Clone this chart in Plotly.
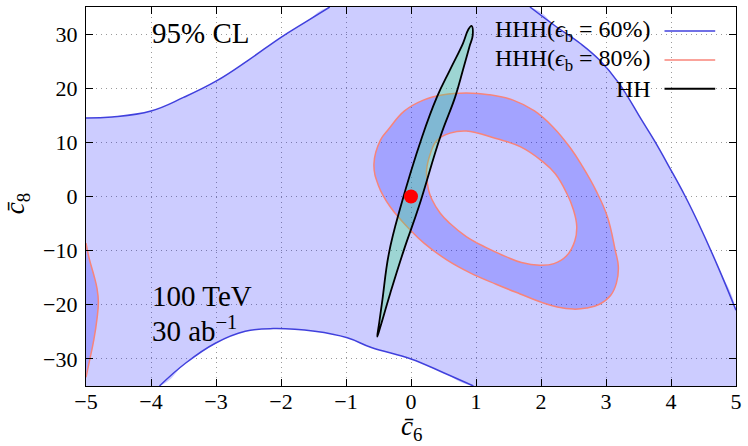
import plotly.graph_objects as go

# ---------------- data ----------------
X_RANGE = [-5, 5]
Y_RANGE = [-35, 35]
X_TICKS = [-5, -4, -3, -2, -1, 0, 1, 2, 3, 4, 5]
Y_TICKS = [-30, -20, -10, 0, 10, 20, 30]

# HHH (eps_b = 60%) 95% CL contour, three branches
hhh60_top_x = [-5.0, -4.6, -4.0, -3.5, -3.0, -2.5, -2.0, -1.6, -1.25]
hhh60_top_y = [14.5, 14.7, 15.8, 18.3, 21.3, 25.2, 29.4, 32.4, 35.0]
hhh60_right_x = [1.83, 2.23, 2.60, 2.90, 3.20, 3.55, 3.74, 3.98, 4.22, 4.42, 4.72, 5.0]
hhh60_right_y = [35.0, 31.4, 28.3, 25.2, 20.9, 14.1, 10.4, 5.3, 0.0, -4.9, -12.9, -21.0]
hhh60_bot_x = [-3.87, -3.47, -3.01, -2.55, -2.12, -1.48, -0.98, -0.61, 0.0, 0.51, 0.96]
hhh60_bot_y = [-35.0, -30.8, -27.1, -24.9, -24.4, -24.9, -26.1, -27.9, -30.0, -32.6, -35.0]

# HHH (eps_b = 80%) contour: outer ring (clockwise), inner ring (counter-clockwise), left sliver
hhh80_outer_x = [2.64, 2.85, 3.02, 3.14, 3.19, 3.16, 3.07, 2.9, 2.7, 2.5, 2.25, 2.02, 1.68, 1.31,
                 0.91, 0.55, 0.2, -0.01, -0.32, -0.5, -0.57, -0.47, -0.34, -0.1, 0.19, 0.5, 0.85,
                 1.2, 1.57, 1.9, 2.18, 2.45, 2.64]
hhh80_outer_y = [5.5, 1.0, -3.7, -9.8, -13.0, -16.0, -18.3, -19.9, -20.6, -20.8, -20.4, -19.6, -18.0, -16.2,
                 -14.1, -11.7, -8.6, -6.2, -1.9, 2.0, 6.0, 10.4, 12.5, 15.8, 17.8, 18.8, 19.1,
                 18.8, 17.8, 15.8, 12.9, 9.0, 5.5]
hhh80_inner_x = [2.4, 2.22, 2.02, 1.68, 1.31, 0.85, 0.6, 0.4, 0.3, 0.24, 0.27, 0.32, 0.45, 0.6,
                 0.85, 1.15, 1.46, 1.7, 1.98, 2.2, 2.39, 2.52, 2.55, 2.5, 2.4]
hhh80_inner_y = [0.5, 4.2, 6.5, 9.2, 10.7, 12.1, 11.7, 10.4, 8.0, 4.9, 1.2, -0.5, -3.1, -5.0,
                 -7.4, -9.4, -11.1, -12.2, -12.7, -12.4, -11.0, -8.2, -5.5, -2.5, 0.5]
hhh80_left_x = [-5.0, -4.95, -4.88, -4.83, -4.81, -4.83, -4.88, -4.94, -5.0]
hhh80_left_y = [-8.6, -11.5, -14.5, -17.0, -19.5, -22.5, -26.5, -30.0, -33.4]

# HH 95% CL ellipse
hh_x = [0.12, -0.11, -0.32, -0.47, -0.52, -0.49, -0.44, -0.34, -0.16, 0.17, 0.40, 0.60, 0.80,
        0.88, 0.93, 0.95, 0.90, 0.80, 0.68, 0.45, 0.12]
hh_y = [-1.9, -9.9, -17.9, -24.0, -25.9, -23.4, -19.1, -10.5, -1.9, 11.0, 18.4, 23.4, 28.3,
        30.8, 31.5, 29.8, 27.7, 23.4, 18.4, 11.0, -1.9]

# Standard-model point
sm_x = [0]
sm_y = [0]

legend_labels = ["HHH(<i>ϵ</i><sub>b</sub> = 60%)", "HHH(<i>ϵ</i><sub>b</sub> = 80%)", "HH"]

# ---------------- style ----------------
FONT = "Liberation Serif, DejaVu Serif, Times New Roman, serif"
BLUE = "#4040dd"
SALMON = "#f8847a"
FILL_BLUE = "rgba(0,0,255,0.2)"
FILL_HH = "rgba(50,235,110,0.3)"
SMOOTH = 1.2

fig = go.Figure()

# 60% region polygon: top-left branch, right branch, bottom-right corner,
# bottom branch (reversed), bottom-left corner
poly_x = (hhh60_top_x + hhh60_right_x + [X_RANGE[1]] + hhh60_bot_x[::-1] + [X_RANGE[0]])
poly_y = (hhh60_top_y + hhh60_right_y + [Y_RANGE[0]] + hhh60_bot_y[::-1] + [Y_RANGE[0]])
fig.add_trace(go.Scatter(x=poly_x, y=poly_y, fill="toself", fillcolor=FILL_BLUE,
                         mode="lines", line=dict(width=0, shape="spline", smoothing=SMOOTH),
                         hoverinfo="skip"))

for bx, by in [(hhh60_top_x, hhh60_top_y), (hhh60_right_x, hhh60_right_y), (hhh60_bot_x, hhh60_bot_y)]:
    fig.add_trace(go.Scatter(x=bx, y=by, mode="lines",
                             line=dict(color=BLUE, width=1.5, shape="spline", smoothing=SMOOTH),
                             hoverinfo="skip"))

# 80% region: ring with hole + left sliver
ring_x = hhh80_outer_x + [None] + hhh80_inner_x
ring_y = hhh80_outer_y + [None] + hhh80_inner_y
fig.add_trace(go.Scatter(x=ring_x, y=ring_y, fill="toself", fillcolor=FILL_BLUE,
                         mode="lines", line=dict(width=0, shape="spline", smoothing=SMOOTH),
                         connectgaps=False, hoverinfo="skip"))
fig.add_trace(go.Scatter(x=hhh80_left_x, y=hhh80_left_y, fill="toself", fillcolor=FILL_BLUE,
                         mode="lines", line=dict(width=0, shape="spline", smoothing=SMOOTH),
                         hoverinfo="skip"))
for bx, by in [(hhh80_outer_x, hhh80_outer_y), (hhh80_inner_x, hhh80_inner_y), (hhh80_left_x, hhh80_left_y)]:
    fig.add_trace(go.Scatter(x=bx, y=by, mode="lines",
                             line=dict(color=SALMON, width=1.5, shape="spline", smoothing=SMOOTH),
                             hoverinfo="skip"))

# HH ellipse
fig.add_trace(go.Scatter(x=hh_x, y=hh_y, fill="toself", fillcolor=FILL_HH, mode="lines",
                         line=dict(color="black", width=1.8, shape="spline", smoothing=SMOOTH),
                         hoverinfo="skip"))

# SM point
fig.add_trace(go.Scatter(x=sm_x, y=sm_y, mode="markers",
                         marker=dict(color="red", size=14, line=dict(width=0)),
                         hoverinfo="skip"))

axis_common = dict(showline=True, linecolor="black", linewidth=1.2, mirror="ticks",
                   ticks="inside", ticklen=7, tickwidth=1.2, tickcolor="black",
                   showgrid=True, gridcolor="#9a9a9a", griddash="1px,4px", gridwidth=1,
                   zeroline=False, tickfont=dict(family=FONT, size=22, color="black"))

fig.update_xaxes(range=X_RANGE, tickvals=X_TICKS, ticklabelstandoff=-5, **axis_common)
fig.update_yaxes(range=Y_RANGE, tickvals=Y_TICKS, ticklabelstandoff=3, **axis_common)

# legend drawn manually (text left of line sample)
shapes = [dict(type="rect", xref="paper", yref="paper", x0=0.662, x1=0.994, y0=0.736, y1=0.997,
               fillcolor="white", line=dict(width=0), layer="between")]
annotations = []
leg_rows = [0.937, 0.860, 0.784]
leg_colors = [BLUE, SALMON, "black"]
leg_widths = [1.5, 1.5, 2.0]
for lab, yy, col, w in zip(legend_labels, leg_rows, leg_colors, leg_widths):
    annotations.append(dict(text=lab, xref="paper", yref="paper", x=0.872, y=yy,
                            xanchor="right", yanchor="middle", showarrow=False,
                            font=dict(family=FONT, size=24, color="black")))
    shapes.append(dict(type="line", xref="paper", yref="paper", x0=0.890, x1=0.968, y0=yy, y1=yy,
                       line=dict(color=col, width=w)))

annotations += [
    dict(text="95% CL", xref="paper", yref="paper", x=0.098, y=0.931, xanchor="left",
         yanchor="middle", showarrow=False, font=dict(family=FONT, size=29, color="black")),
    dict(text="100 TeV", xref="paper", yref="paper", x=0.098, y=0.237, xanchor="left",
         yanchor="middle", showarrow=False, font=dict(family=FONT, size=29, color="black")),
    dict(text="30 ab<sup>−1</sup>", xref="paper", yref="paper", x=0.098, y=0.150, xanchor="left",
         yanchor="middle", showarrow=False, font=dict(family=FONT, size=29, color="black")),
    dict(text="<i>c̄</i><sub>6</sub>", xref="paper", yref="paper", x=0.5, y=-0.112,
         xanchor="center", yanchor="middle", showarrow=False,
         font=dict(family=FONT, size=27, color="black")),
    dict(text="<i>c̄</i><sub>8</sub>", xref="paper", yref="paper", x=-0.106, y=0.48,
         xanchor="center", yanchor="middle", showarrow=False, textangle=-90,
         font=dict(family=FONT, size=27, color="black")),
]

fig.update_layout(width=748, height=446, margin=dict(l=86, r=6, t=7, b=60),
                  paper_bgcolor="white", plot_bgcolor="white", showlegend=False,
                  shapes=shapes, annotations=annotations)

fig.write_html("out.html")
